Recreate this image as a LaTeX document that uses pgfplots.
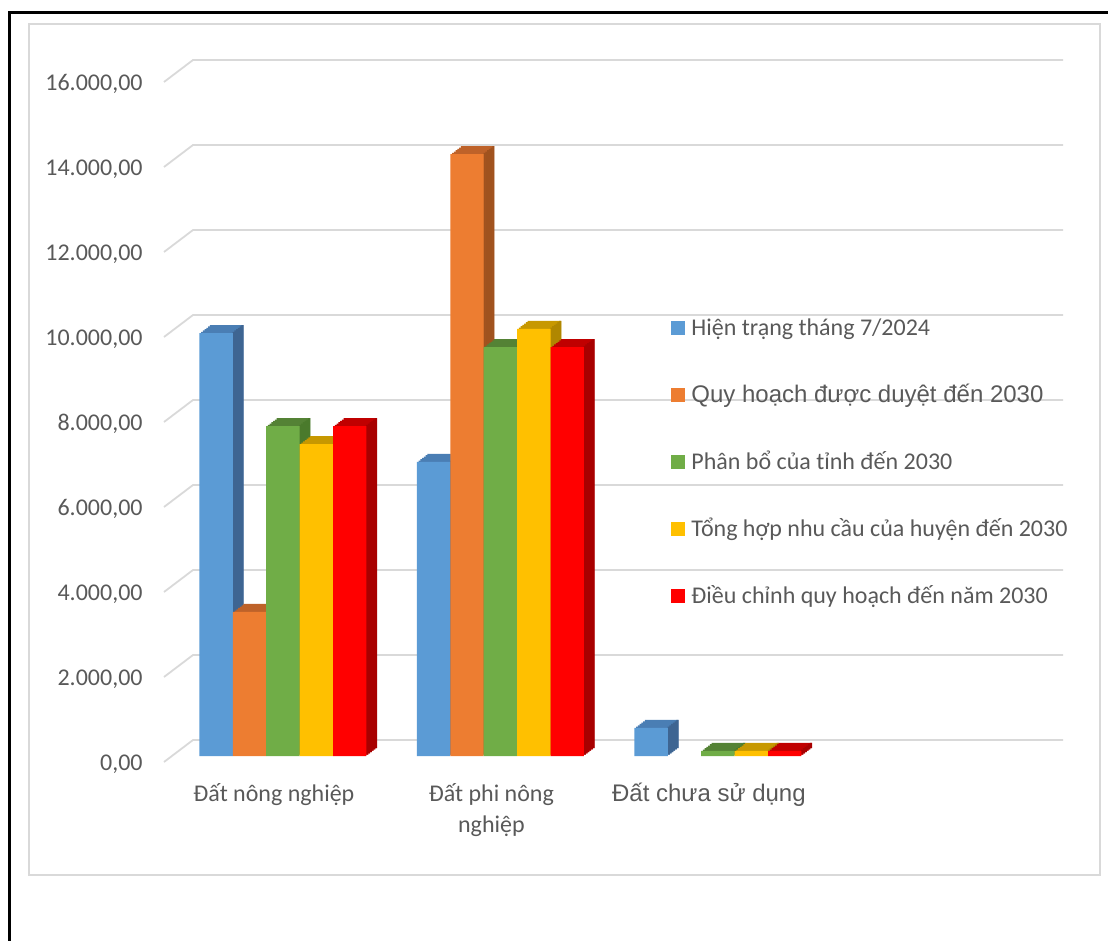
\documentclass[border=0pt]{standalone}
\usepackage{pgfplots}
\pgfplotsset{compat=1.18}
\usepackage{pgfplotstable}
\usepackage{fontspec}
\setmainfont{Carlito}
\newfontfamily\arialfont{Liberation Sans}
\definecolor{txt}{HTML}{595959}
\definecolor{gridc}{HTML}{D9D9D9}
\definecolor{bF}{HTML}{5B9BD5}\definecolor{bT}{HTML}{4A7EB4}\definecolor{bS}{HTML}{3E6592}
\definecolor{oF}{HTML}{ED7D31}\definecolor{oT}{HTML}{BE6229}\definecolor{oS}{HTML}{A0521E}
\definecolor{gF}{HTML}{70AD47}\definecolor{gT}{HTML}{548235}\definecolor{gS}{HTML}{4A7A2C}
\definecolor{yF}{HTML}{FFC000}\definecolor{yT}{HTML}{C79800}\definecolor{yS}{HTML}{B08700}
\definecolor{rF}{HTML}{FF0000}\definecolor{rT}{HTML}{C00000}\definecolor{rS}{HTML}{A80000}

\pgfplotstableread{
x blue orange green yellow red
0 9950 3390 7760 7340 7760
1 6920 14160 9620 10050 9620
2 660 0 120 120 120
}\datatable

% #1 column, #2 front, #3 top, #4 side, #5 position index
\newcommand\barser[5]{%
  \pgfplotsinvokeforeach{1,2,3,4,5,6}{%
    \addplot[ybar, forget plot, fill=#3, draw=none, bar width=16.7pt,
      bar shift={#5*16.7pt}, xshift={##1*0.875pt}, yshift={##1*0.6667pt}]
      table[x=x, y=#1] {\datatable};
  }%
  \pgfplotsinvokeforeach{1,2,3,4,5,6}{%
    \addplot[ybar, forget plot, fill=#4, draw=none, bar width=1.1pt,
      bar shift={#5*16.7pt+8.35pt+(##1-0.5)*0.875pt}, yshift={##1*0.6667pt}]
      table[x=x, y=#1] {\datatable};
  }%
  \addplot[ybar, fill=#2, draw=none, bar width=16.7pt, bar shift={#5*16.7pt},
    legend image code/.code={\fill[#2] (0pt,-3.5pt) rectangle (7pt,3.5pt); \path (10pt,0pt);}]
    table[x=x, y=#1] {\datatable};
}

\begin{document}
\begin{tikzpicture}
\useasboundingbox (0pt,0pt) rectangle (554pt,-470.5pt);
\begin{scope}[x=0.5pt,y=-0.5pt]
  \draw[gridc, line width=1pt] (29,24) rectangle (1100,875);
  \draw[black, line width=1.5pt] (9,941) -- (9,13) -- (1108,13);
\end{scope}
\begin{axis}[
  at={(86pt,-378pt)}, anchor=south west,
  scale only axis, width=435pt, height=340pt,
  xmin=-0.51, xmax=3.49, ymin=0, ymax=16000,
  clip=false,
  unbounded coords=discard,
  y filter/.expression={y==0 ? nan : y},
  axis line style={draw=none}, tick style={draw=none},
  major tick length=0pt,
  xtick={0,1,2},
  xticklabels={{Đất nông nghiệp},{\begin{tabular}[t]{@{}c@{}}Đất phi nông\\nghiệp\end{tabular}},{\arialfont\fontsize{12}{15}\selectfont Đất chưa sử dụng}},
  xticklabel style={anchor=base, inner sep=0pt, xshift=-4.5pt, yshift=-22.5pt,
    font=\fontsize{12}{15.5}\selectfont, text=txt},
  ytick={0,2000,4000,6000,8000,10000,12000,14000,16000},
  scaled y ticks=false,
  yticklabel style={anchor=east, inner sep=0pt, xshift=-14.5pt, yshift=-4pt,
    font=\fontsize{12}{14}\selectfont, text=txt,
    /pgf/number format/.cd, fixed, fixed zerofill, precision=2, use comma, 1000 sep={.}, assume math mode=true},
  legend cell align=left,
  legend style={at={(0.5736,0.4324)}, anchor=west, draw=none, fill=none, inner sep=0pt,
    row sep=25.8pt, font=\fontsize{12}{14}\selectfont, text=txt,
    nodes={inner sep=0pt, text height=7.7pt, text depth=0pt}},
]
\pgfplotsinvokeforeach{0,2000,4000,6000,8000,10000,12000,14000,16000}{%
  \draw[gridc, line width=0.9pt] ([shift={(-4pt,-3pt)}]axis cs:-0.51,#1) -- ([shift={(10.5pt,8pt)}]axis cs:-0.51,#1) -- ([shift={(10.5pt,8pt)}]axis cs:3.49,#1);
}
\barser{blue}{bF}{bT}{bS}{-2}
\barser{orange}{oF}{oT}{oS}{-1}
\barser{green}{gF}{gT}{gS}{0}
\barser{yellow}{yF}{yT}{yS}{1}
\barser{red}{rF}{rT}{rS}{2}
\legend{Hiện trạng tháng 7/2024, {\arialfont\fontsize{12}{14}\selectfont Quy hoạch được duyệt đến 2030}, Phân bổ của tỉnh đến 2030, Tổng hợp nhu cầu của huyện đến 2030, Điều chỉnh quy hoạch đến năm 2030}
\end{axis}
\end{tikzpicture}
\end{document}
